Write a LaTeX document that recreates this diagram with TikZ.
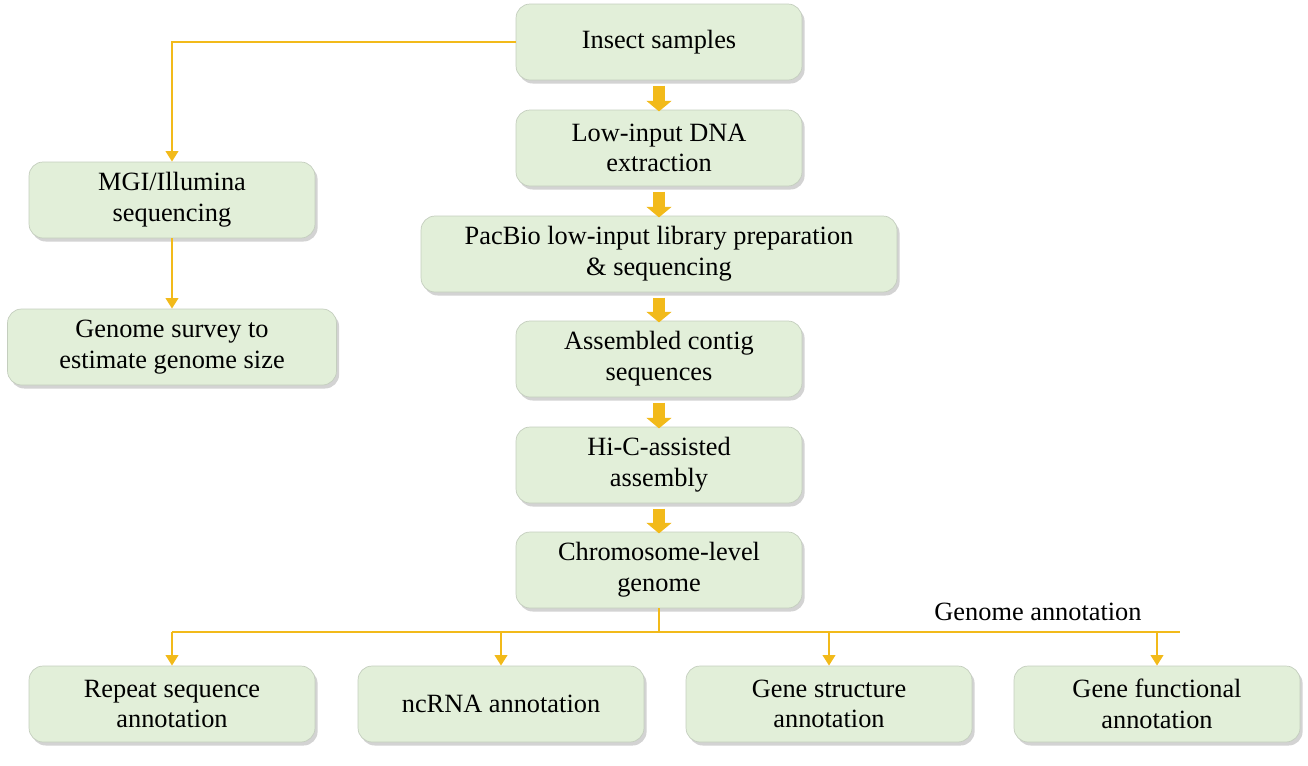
\documentclass[tikz,border=0pt]{standalone}
\usepackage{fontspec}
\setmainfont{Liberation Serif}
\usetikzlibrary{positioning,shadows,arrows.meta}
\definecolor{boxgreen}{HTML}{E2EFD9}
\definecolor{linegold}{HTML}{F2BA1A}
\tikzset{
    stage/.style={
           rectangle,
           rounded corners=8pt,
           draw=boxgreen!70!gray, thin,
           fill=boxgreen,
           drop shadow={shadow xshift=1.5pt,shadow yshift=-2pt,opacity=0.35},
           minimum width=5.72cm,
           minimum height=1.52cm,
           align=center,
           font=\fontsize{15}{17.5}\selectfont,
           },
    link/.style={draw=linegold, line width=1.6pt, -{Triangle[length=6pt,width=7pt]}},
    fat/.style={draw=linegold, line width=7pt, -{Triangle[length=6pt,width=14pt]}, shorten >=-1pt},
}

\begin{document}
\begin{tikzpicture}[x=0.02cm,y=-0.02cm]
      \useasboundingbox (0,0) rectangle (1308,765);

      % main column
      \node[stage] (INSECT) at (659,42) {Insect samples};
      \node[stage] (DNA) at (659,148) {Low-input DNA\\extraction};
      \node[stage, minimum width=9.52cm] (PACBIO) at (659,254) {PacBio low-input library preparation\\\& sequencing};
      \node[stage] (CONTIG) at (659,359) {Assembled contig\\sequences};
      \node[stage] (HIC) at (659,465) {Hi-C-assisted\\assembly};
      \node[stage] (CHROM) at (659,570) {Chromosome-level\\genome};

      % survey branch
      \node[stage] (MGI) at (172,200) {MGI/Illumina\\sequencing};
      \node[stage, minimum width=6.58cm] (SURVEY) at (172,347) {Genome survey to\\estimate genome size};

      % annotation row
      \node[stage] (REPEAT) at (172,704) {Repeat sequence\\annotation};
      \node[stage] (NCRNA) at (501,704) {ncRNA annotation};
      \node[stage] (STRUCT) at (829,704) {Gene structure\\annotation};
      \node[stage] (FUNC) at (1157,704) {Gene functional\\annotation};

      \coordinate (SPLIT) at (659,632);
      \coordinate (SPLITEND) at (1180,632);
      \node[font=\fontsize{15}{17.5}\selectfont] (ANNOT) at (1038,612) {Genome annotation};

      % fat arrows down the main column
      \foreach \a/\b in {INSECT/DNA, DNA/PACBIO, PACBIO/CONTIG, CONTIG/HIC, HIC/CHROM}
          \draw[fat] ([yshift=-3pt]\a.south) -- (\b.north);

      % thin connectors
      \draw[link] (INSECT.west) -| (MGI.north);
      \draw[link] (MGI.south) -- (SURVEY.north);
      \draw[draw=linegold, line width=1.6pt] (CHROM.south) -- (SPLIT);
      \draw[draw=linegold, line width=1.6pt] (SPLIT -| REPEAT.north) -- (SPLITEND);
      \foreach \n in {REPEAT, NCRNA, STRUCT, FUNC}
          \draw[link] (SPLIT -| \n.north) -- (\n.north);
\end{tikzpicture}
\end{document}
